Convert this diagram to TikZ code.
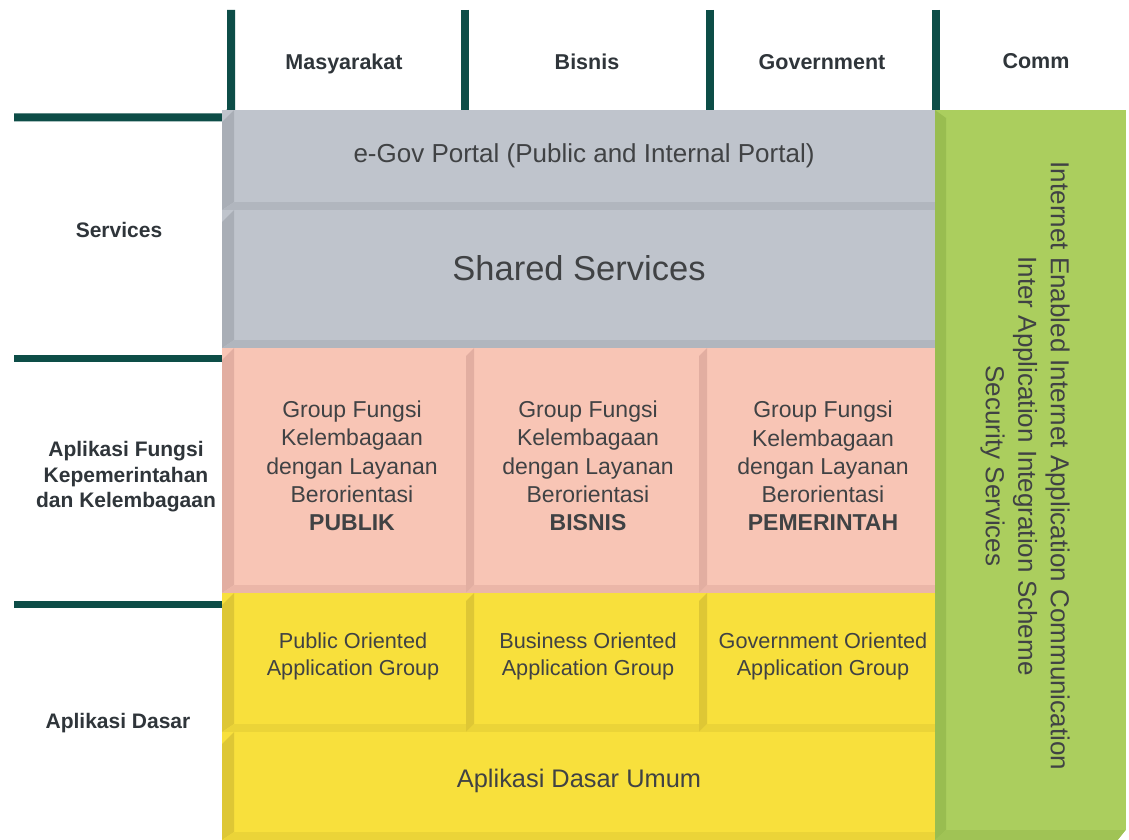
\documentclass[tikz,border=0pt]{standalone}
\usepackage{fontspec}
\setmainfont{Liberation Sans}
\definecolor{myteal}{HTML}{0D4D47}
\definecolor{grayF}{HTML}{BFC4CC}
\definecolor{grayS}{HTML}{A9AEB6}
\definecolor{grayB}{HTML}{B1B6BE}
\definecolor{pinkF}{HTML}{F8C5B5}
\definecolor{pinkS}{HTML}{E2AEA1}
\definecolor{pinkB}{HTML}{EBB6A8}
\definecolor{yelF}{HTML}{F8E03C}
\definecolor{yelS}{HTML}{DEC735}
\definecolor{yelB}{HTML}{EBD438}
\definecolor{grnF}{HTML}{ABCE5E}
\definecolor{grnS}{HTML}{99BD50}
\definecolor{grnB}{HTML}{A0C355}
\definecolor{txt}{HTML}{404244}
\definecolor{lbl}{HTML}{2F353A}
% #1 x1, #2 y1, #3 x2, #4 y2, #5 strip width, #6 face, #7 side, #8 bottom
\newcommand\bevelbox[8]{%
  \fill[#6] (#1,#2) rectangle (#3,#4);
  \fill[#7] (#1,#2+#5) -- (#1+#5,#2) -- (#1+#5,#4-8) -- (#1,#4) -- cycle;
  \fill[#8] (#1,#4) -- (#1+#5,#4-8) -- (#3,#4-8) -- (#3,#4) -- cycle;
}
\begin{document}
\begin{tikzpicture}[x=1pt,y=-1pt,
  tealline/.style={draw=myteal,line width=8pt},
  hdr/.style={font=\fontsize{21.5}{25}\selectfont\bfseries,text=lbl,inner sep=0pt,text height=15.5pt,text depth=0pt},
  side/.style={font=\fontsize{21}{25.5}\selectfont\bfseries,text=lbl,align=center,inner sep=0pt},
  boxtxt/.style={text=txt,align=center,inner sep=0pt},
  pinktxt/.style={boxtxt,font=\fontsize{23}{28.3}\selectfont},
  yeltxt/.style={boxtxt,font=\fontsize{21.7}{27}\selectfont}
]
\useasboundingbox (0,0) rectangle (1129,840);
\fill[white] (0,0) rectangle (1129,840);

% teal guide lines
\coordinate (t1a) at (14,117.5);
\coordinate (t1b) at (225,117.5);
\coordinate (t1c) at (231,111);
\coordinate (t1d) at (231,10);
\draw[tealline,line join=miter] (t1a) -- (t1b) -- (t1c) -- (t1d);
\coordinate (t2a) at (464.5,10);
\coordinate (t2b) at (464.5,110);
\draw[tealline] (t2a) -- (t2b);
\coordinate (t3a) at (710,10);
\coordinate (t3b) at (710,110);
\draw[tealline] (t3a) -- (t3b);
\coordinate (t4a) at (936,10);
\coordinate (t4b) at (936,112);
\draw[tealline] (t4a) -- (t4b);
\coordinate (h2a) at (14,358.5);
\coordinate (h2b) at (232,358.5);
\draw[line width=7pt,draw=myteal] (h2a) -- (h2b);
\coordinate (h3a) at (14,604);
\coordinate (h3b) at (232,604);
\draw[line width=7pt,draw=myteal] (h3a) -- (h3b);

% boxes
\bevelbox{222}{110}{936}{210}{12}{grayF}{grayS}{grayB}
\bevelbox{222}{210}{936}{348}{12}{grayF}{grayS}{grayB}
\bevelbox{222}{348}{466}{593}{12}{pinkF}{pinkS}{pinkB}
\bevelbox{466}{348}{699}{593}{8}{pinkF}{pinkS}{pinkB}
\bevelbox{699}{348}{936}{593}{8}{pinkF}{pinkS}{pinkB}
\bevelbox{222}{593}{466}{732}{12}{yelF}{yelS}{yelB}
\bevelbox{466}{593}{699}{732}{8}{yelF}{yelS}{yelB}
\bevelbox{699}{593}{936}{732}{8}{yelF}{yelS}{yelB}
\bevelbox{222}{732}{936}{840}{12}{yelF}{yelS}{yelB}
% green comm column
\fill[grnF] (935,110) rectangle (1126,840);
\fill[grnS] (935,110) -- (946,118) -- (946,830) -- (935,840) -- cycle;
\fill[grnB] (935,840) -- (946,830) -- (1126,830) -- (1118,840) -- cycle;
\fill[white] (1118,840) -- (1126,830) -- (1129,830) -- (1129,840) -- cycle;

% headers
\node[hdr] (masy) at (344,62) {Masyarakat};
\node[hdr] (bis) at (587,62) {Bisnis};
\node[hdr] (gov) at (822,62) {Government};
\node[hdr] (comm) at (1036,61) {Comm};

% side labels
\node[side] (serv) at (119,230) {Services};
\node[side] (afk) at (126,477) {Aplikasi Fungsi\\Kepemerintahan\\dan Kelembagaan};
\node[side] (ad) at (118,723) {Aplikasi Dasar};

% box texts
\node[boxtxt,font=\fontsize{26}{30}\selectfont] (egov) at (584,156) {e-Gov Portal (Public and Internal Portal)};
\node[boxtxt,font=\fontsize{34.5}{40}\selectfont] (shared) at (579,268) {Shared Services};
\node[pinktxt] (p1) at (352,466) {Group Fungsi\\Kelembagaan\\dengan Layanan\\Berorientasi\\\textbf{PUBLIK}};
\node[pinktxt] (p2) at (588,466) {Group Fungsi\\Kelembagaan\\dengan Layanan\\Berorientasi\\\textbf{BISNIS}};
\node[pinktxt] (p3) at (823,466) {Group Fungsi\\Kelembagaan\\dengan Layanan\\Berorientasi\\\textbf{PEMERINTAH}};
\node[yeltxt] (y1) at (353,656) {Public Oriented\\Application Group};
\node[yeltxt] (y2) at (588,656) {Business Oriented\\Application Group};
\node[yeltxt] (y3) at (823,656) {Government Oriented\\Application Group};
\node[boxtxt,font=\fontsize{25.4}{30}\selectfont] (adu) at (579,781) {Aplikasi Dasar Umum};
\node[boxtxt,font=\fontsize{26}{32.5}\selectfont,rotate=-90] (commtxt) at (1025,466)
  {Internet Enabled Internet Application Communication\\Inter Application Integration Scheme\\Security Services};
\end{tikzpicture}
\end{document}
